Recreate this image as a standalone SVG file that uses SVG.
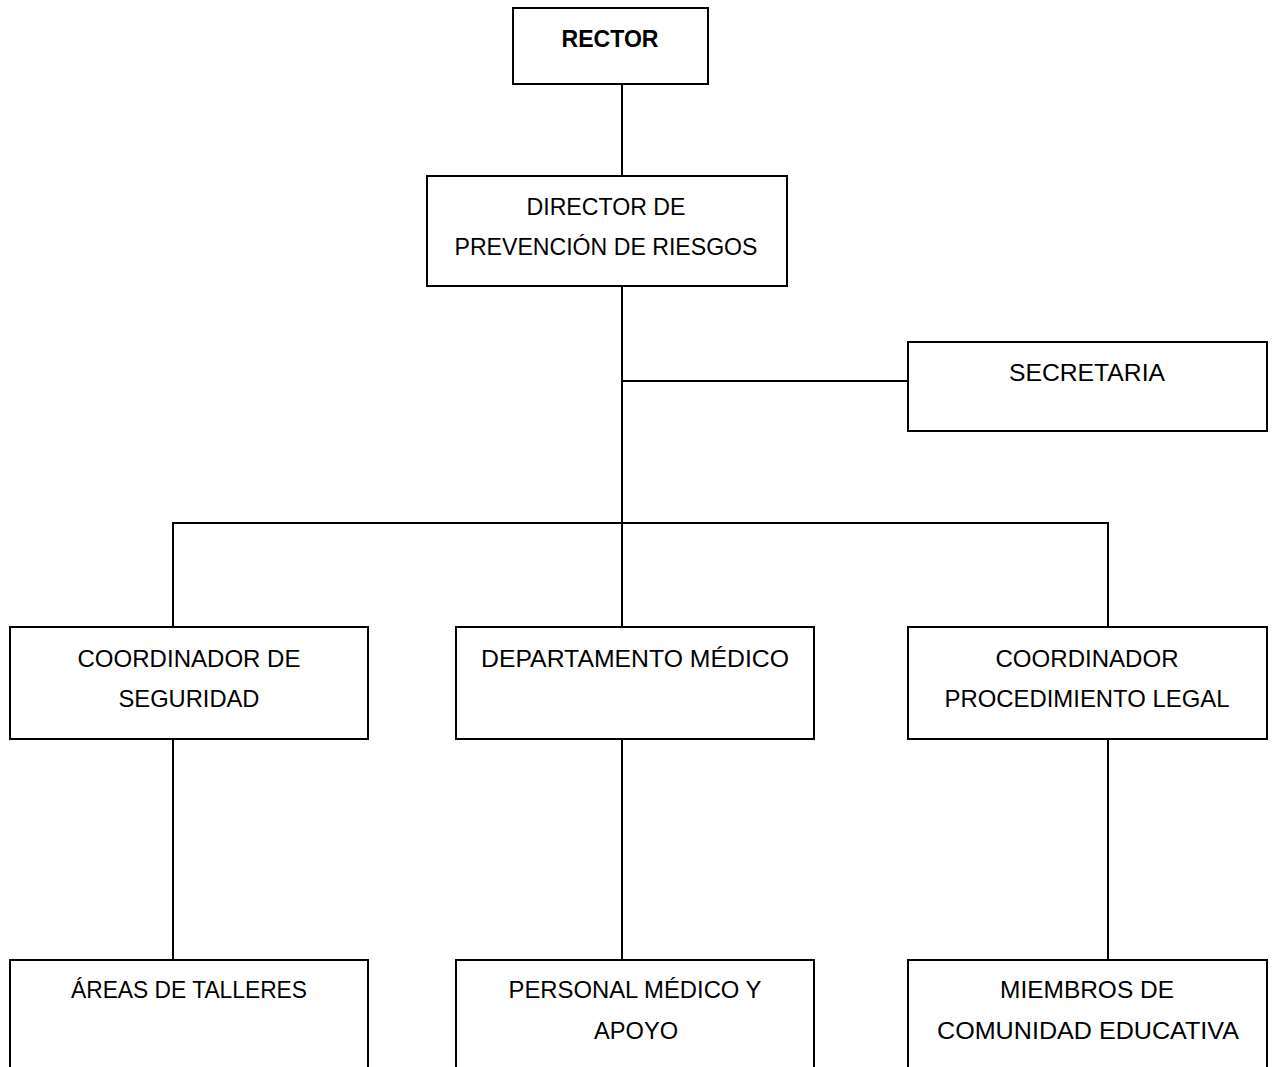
<svg xmlns="http://www.w3.org/2000/svg" width="1274" height="1067" viewBox="0 0 1274 1067">
  <style>
    .box { fill: #ffffff; stroke: #000000; stroke-width: 2; }
    .link { fill: none; stroke: #000000; stroke-width: 2; }
    .lbl { font-family: "Liberation Sans", Arial, sans-serif; font-size: 24px; fill: #000000; text-anchor: middle; }
    .bold { font-weight: bold; }
  </style>
  <rect width="1274" height="1067" fill="#ffffff"/>

  <!-- connectors -->
  <g id="connectors">
    <line class="link" x1="622" y1="84" x2="622" y2="176"/>
    <line class="link" x1="622" y1="286" x2="622" y2="627"/>
    <line class="link" x1="622" y1="381" x2="908" y2="381"/>
    <line class="link" x1="173" y1="523" x2="1108" y2="523"/>
    <line class="link" x1="173" y1="522" x2="173" y2="627"/>
    <line class="link" x1="1108" y1="522" x2="1108" y2="627"/>
    <line class="link" x1="173" y1="739" x2="173" y2="960"/>
    <line class="link" x1="622" y1="739" x2="622" y2="960"/>
    <line class="link" x1="1108" y1="739" x2="1108" y2="960"/>
  </g>

  <g id="rector">
    <rect class="box" x="513" y="8" width="195" height="76"/>
    <text class="lbl bold" x="610" y="47" textLength="97" lengthAdjust="spacingAndGlyphs">RECTOR</text>
  </g>

  <g id="director">
    <rect class="box" x="427" y="176" width="360" height="110"/>
    <text class="lbl" x="606" y="215" textLength="159" lengthAdjust="spacingAndGlyphs">DIRECTOR DE</text>
    <text class="lbl" x="606" y="255" textLength="303" lengthAdjust="spacingAndGlyphs">PREVENCIÓN DE RIESGOS</text>
  </g>

  <g id="secretaria">
    <rect class="box" x="908" y="342" width="359" height="89"/>
    <text class="lbl" x="1087" y="381" textLength="156" lengthAdjust="spacingAndGlyphs">SECRETARIA</text>
  </g>

  <g id="coord-seguridad">
    <rect class="box" x="10" y="627" width="358" height="112"/>
    <text class="lbl" x="189" y="667" textLength="223" lengthAdjust="spacingAndGlyphs">COORDINADOR DE</text>
    <text class="lbl" x="189" y="707" textLength="141" lengthAdjust="spacingAndGlyphs">SEGURIDAD</text>
  </g>

  <g id="dep-medico">
    <rect class="box" x="456" y="627" width="358" height="112"/>
    <text class="lbl" x="635" y="667" textLength="308" lengthAdjust="spacingAndGlyphs">DEPARTAMENTO MÉDICO</text>
  </g>

  <g id="coord-legal">
    <rect class="box" x="908" y="627" width="359" height="112"/>
    <text class="lbl" x="1087" y="667" textLength="183" lengthAdjust="spacingAndGlyphs">COORDINADOR</text>
    <text class="lbl" x="1087" y="707" textLength="285" lengthAdjust="spacingAndGlyphs">PROCEDIMIENTO LEGAL</text>
  </g>

  <g id="areas-talleres">
    <rect class="box" x="10" y="960" width="358" height="130"/>
    <text class="lbl" x="189" y="998" textLength="236" lengthAdjust="spacingAndGlyphs">ÁREAS DE TALLERES</text>
  </g>

  <g id="personal-medico">
    <rect class="box" x="456" y="960" width="358" height="130"/>
    <text class="lbl" x="635" y="998" textLength="253" lengthAdjust="spacingAndGlyphs">PERSONAL MÉDICO Y</text>
    <text class="lbl" x="636" y="1039" textLength="84" lengthAdjust="spacingAndGlyphs">APOYO</text>
  </g>

  <g id="miembros">
    <rect class="box" x="908" y="960" width="359" height="130"/>
    <text class="lbl" x="1087" y="998" textLength="174" lengthAdjust="spacingAndGlyphs">MIEMBROS DE</text>
    <text class="lbl" x="1088" y="1039" textLength="302" lengthAdjust="spacingAndGlyphs">COMUNIDAD EDUCATIVA</text>
  </g>
</svg>
